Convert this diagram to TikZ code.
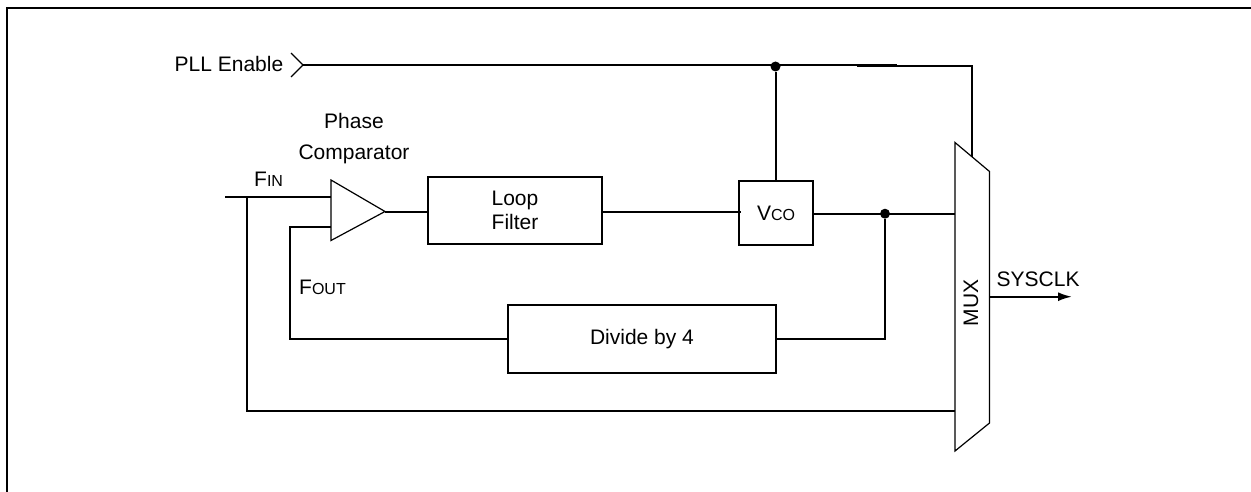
\documentclass[tikz,border=0pt]{standalone}
\usepackage{fontspec}
\setmainfont{Liberation Sans}
\usetikzlibrary{arrows.meta}
\newcommand{\lowcaps}[1]{{\fontsize{16}{16}\selectfont #1}}

\begin{document}
\begin{tikzpicture}[
		x=1pt, y=-1pt,
		wire/.style = {line width=2pt},
		outline/.style = {line width=1.2pt},
		block/.style = {draw, line width=2.1pt, inner sep=0pt, align=center},
		label/.style = {inner sep=0pt, anchor=base west},
		junction/.style = {circle, fill=black, inner sep=0pt, minimum size=10pt},
		every node/.style = {font=\fontsize{21}{24}\selectfont},
	]
	\path[use as bounding box] (0,0) rectangle (1251,492);
	\draw[line width=2.2pt] (7,492) -- (7,8) -- (1251,8);

	% blocks
	\node[block, minimum width=174pt, minimum height=67pt] (loop) at (515,210.2) {Loop\\Filter};
	\node[block, minimum width=74pt, minimum height=64pt] (vco) at (776,213) {V\lowcaps{CO}};
	\node[block, minimum width=268pt, minimum height=67.5pt] (divide) at (642,339) {Divide by 4};

	% comparator and mux outlines
	\coordinate (cmpTop) at (331,180);
	\coordinate (cmpBot) at (331,240.5);
	\coordinate (cmpTip) at (385,211.5);
	\draw[outline] (cmpTop) -- (cmpTip) -- (cmpBot) -- cycle;
	\coordinate (muxA) at (955,142.5);
	\coordinate (muxB) at (989.5,171.5);
	\coordinate (muxC) at (989.5,423);
	\coordinate (muxD) at (955,451);
	\draw[outline] (muxA) -- (muxB) -- (muxC) -- (muxD) -- cycle;
	\node[rotate=90, inner sep=0pt] (muxtext) at (971,303) {MUX};

	% pll enable
	\node[label] (enable) at (174.5,72) {PLL Enable};
	\coordinate (chevTop) at (291,53);
	\coordinate (chevTip) at (303,65);
	\coordinate (chevBot) at (291,77);
	\draw[outline] (chevTop) -- (chevTip) -- (chevBot);
	\coordinate (enableEnd) at (897,65);
	\coordinate (jog) at (857,66);
	\coordinate (muxEn) at (972,157);
	\node[junction] (vcoDot) at (775.5,66.5) {};
	\draw[wire] (chevTip) -- (enableEnd);
	\draw[wire] (jog) -- (muxEn |- jog) -- (muxEn);
	\draw[wire] (vcoDot) -- (vcoDot |- vco.north);

	% forward path
	\coordinate (fin) at (225,197);
	\coordinate (finTee) at (246.7,197);
	\coordinate (cmpInA) at (331,197);
	\coordinate (cmpInB) at (331,227);
	\coordinate (vcoIn) at (741,212);
	\coordinate (vcoOut) at (813,213.7);
	\coordinate (muxIn) at (955,213.7);
	\node[junction] (outDot) at (885,213.7) {};
	\draw[wire] (fin) -- (cmpInA);
	\draw[wire] (cmpTip) -- (loop.west |- cmpTip);
	\draw[wire] (loop.east |- vcoIn) -- (vcoIn);
	\draw[wire] (vcoOut) -- (muxIn);

	% feedback
	\coordinate (fbk) at (290,227);
	\draw[wire] (cmpInB) -- (fbk) -- (fbk |- divide.west) -- (divide.west);
	\draw[wire] (divide.east) -- (outDot |- divide.east) -- (outDot);
	\coordinate (muxLow) at (955,410.7);
	\draw[wire] (finTee) -- (finTee |- muxLow) -- (muxLow);

	% output
	\coordinate (sysOut) at (989.5,296.7);
	\coordinate (sysEnd) at (1072,296.7);
	\draw[wire, -{Latex[length=14pt, width=9pt]}] (sysOut) -- (sysEnd);

	% labels
	\node[align=center, inner sep=0pt, font=\fontsize{21}{31}\selectfont] (phase) at (354,139) {Phase\\Comparator};
	\node[label] (finlabel) at (254,186.7) {F\lowcaps{IN}};
	\node[label] (foutlabel) at (299,294) {F\lowcaps{OUT}};
	\node[label] (sysclk) at (996.5,286) {SYSCLK};
\end{tikzpicture}
\end{document}
